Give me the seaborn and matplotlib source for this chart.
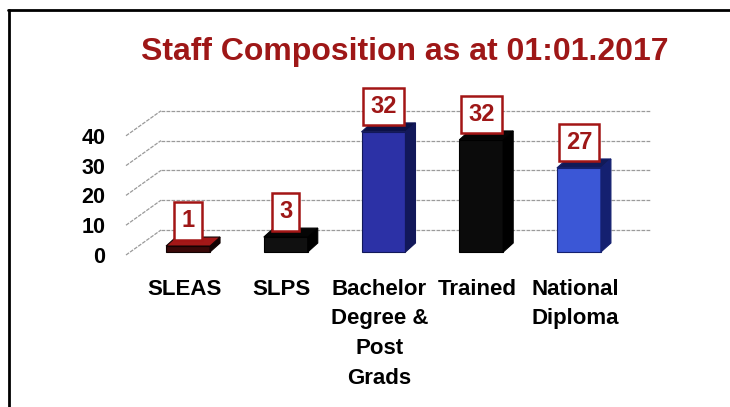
import matplotlib
matplotlib.use("Agg")
import matplotlib.pyplot as plt
import seaborn as sns
import pandas as pd
from matplotlib.patches import Polygon
from matplotlib.lines import Line2D

# values as drawn against the 0-40 axis, and the figures written in the boxes
categories = ["SLEAS", "SLPS", "Bachelor\nDegree &\nPost\nGrads", "Trained", "National\nDiploma"]
bar_heights = [2, 5, 40.3, 37.6, 28.2]
box_labels = ["1", "3", "32", "32", "27"]
y_ticks = [0, 10, 20, 30, 40]

front_colors = ["#3a0808", "#101010", "#2c31a6", "#0b0b0b", "#3b57d6"]
side_colors = ["#120202", "#000000", "#12185a", "#000000", "#142070"]
top_colors = ["#a31818", "#050505", "#0c1146", "#050505", "#111a58"]
red = "#9e1717"

sns.set_theme(style="white")
plt.rcParams["font.family"] = ["Liberation Sans", "DejaVu Sans"]
plt.rcParams["font.weight"] = "bold"

W, H = 730, 407
fig = plt.figure(figsize=(W / 100, H / 100), dpi=100)
ax_l, ax_b, ax_w, ax_h = 126, 255, 489, 149  # px, bottom counted from the top
ax = fig.add_axes([ax_l / W, (H - ax_b) / H, ax_w / W, ax_h / H])

df = pd.DataFrame({"cat": categories, "val": bar_heights})
sns.barplot(data=df, x="cat", y="val", hue="cat", palette=front_colors,
            saturation=1, width=0.45, legend=False, ax=ax, zorder=2)

x0, x1 = -0.594, 4.41
ax.set_xlim(x0, x1)
ax.set_ylim(0, 50)
px_cat = ax_w / (x1 - x0)
px_val = ax_h / 50

# fake 3d: back wall gridlines and the diagonal floor/wall lines
wdx, wdy = 35 / px_cat, 25 / px_val
for v in y_ticks:
    ax.plot([x0, x0 + wdx], [v, v + wdy], color="#9a9a9a", lw=0.9,
            ls=(0, (3, 1)), clip_on=False, zorder=0.5)
    ax.plot([x0 + wdx, x1 + wdx], [v + wdy, v + wdy], color="#9a9a9a", lw=0.9,
            ls=(0, (3, 1)), clip_on=False, zorder=0.5)

# bar depth
bdx, bdy = 10 / px_cat, 9 / px_val
sx, sy = 4 / px_cat, 3 / px_val
bars = sorted(ax.patches, key=lambda p: p.get_x())
for p, sc, tc, lab in zip(bars, side_colors, top_colors, box_labels):
    x = p.get_x() + sx
    w = p.get_width()
    h = p.get_height()
    p.set_x(x)
    p.set_y(sy)
    p.set_edgecolor(sc)
    p.set_linewidth(0.8)
    top = sy + h
    ax.add_patch(Polygon([(x + w, sy), (x + w, top), (x + w + bdx, top + bdy),
                          (x + w + bdx, sy + bdy)], closed=True, fc=sc, ec=sc,
                         lw=0.8, zorder=2, clip_on=False))
    ax.add_patch(Polygon([(x, top), (x + bdx, top + bdy), (x + w + bdx, top + bdy),
                          (x + w, top)], closed=True, fc=tc, ec=sc,
                         lw=0.8, zorder=2, clip_on=False))
    ax.annotate(lab, xy=(x + w / 2, top), xytext=(0, 9.8), textcoords="offset points",
                ha="center", va="bottom", fontsize=17, color=red, fontweight="bold",
                zorder=5, annotation_clip=False,
                bbox=dict(boxstyle="square,pad=0.3", fc="white", ec="#a31515", lw=1.8))

ax.set_yticks(y_ticks)
ax.set_xlabel("")
ax.set_ylabel("")
ax.tick_params(axis="y", length=0, pad=15, labelsize=15.5, labelcolor="black")
ax.tick_params(axis="x", length=0, pad=17, labelsize=16, labelcolor="black")
for t in ax.get_xticklabels():
    t.set_linespacing(1.55)
for s in ax.spines.values():
    s.set_visible(False)
ax.patch.set_alpha(0)

fig.text(405 / W, 1 - 60 / H, "Staff Composition as at 01:01.2017", ha="center",
         va="baseline", fontsize=23, color=red, fontweight="bold")

# frame of the scanned page
fig.add_artist(Line2D([8 / W, 1], [1 - 9.5 / H] * 2, transform=fig.transFigure,
                      color="black", lw=2))
fig.add_artist(Line2D([8.5 / W] * 2, [0, 1 - 9.5 / H], transform=fig.transFigure,
                      color="black", lw=2))

fig.savefig("out.png", dpi=100)
